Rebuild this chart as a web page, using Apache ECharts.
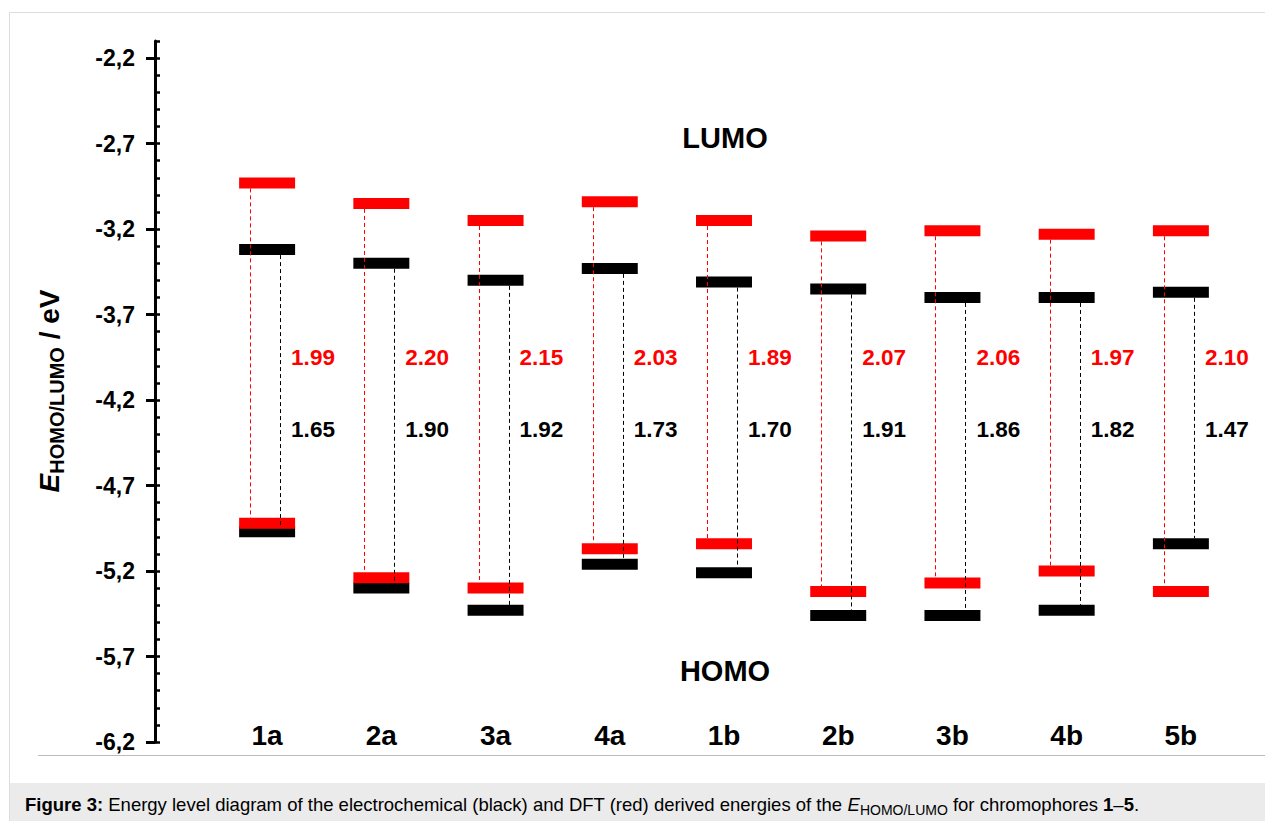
<!DOCTYPE html>
<html>
<head>
<meta charset="utf-8">
<script src="https://cdn.jsdelivr.net/npm/echarts@6/dist/echarts.min.js"></script>
<style>
  html, body { margin: 0; padding: 0; background: #fff; }
  #chart { width: 1265px; height: 821px; }
</style>
</head>
<body>
<div id="chart"></div>
<script>
// ---- data ----
const CATEGORIES = ['1a', '2a', '3a', '4a', '1b', '2b', '3b', '4b', '5b'];
const LUMO_DFT = [-2.93, -3.05, -3.15, -3.04, -3.15, -3.24, -3.21, -3.23, -3.21];
const HOMO_DFT = [-4.92, -5.24, -5.30, -5.07, -5.04, -5.32, -5.27, -5.20, -5.32];
const LUMO_EC  = [-3.32, -3.40, -3.50, -3.43, -3.51, -3.55, -3.60, -3.60, -3.57];
const HOMO_EC  = [-4.97, -5.30, -5.43, -5.16, -5.21, -5.46, -5.46, -5.43, -5.04];
const GAP_DFT = ['1.99', '2.20', '2.15', '2.03', '1.89', '2.07', '2.06', '1.97', '2.10'];
const GAP_EC  = ['1.65', '1.90', '1.92', '1.73', '1.70', '1.91', '1.86', '1.82', '1.47'];
const Y_TICKS = [-6.2, -5.7, -5.2, -4.7, -4.2, -3.7, -3.2, -2.7, -2.2];
const Y_MIN = -6.2, Y_MAX = -2.1;
const LABEL_Y_DFT = -3.95, LABEL_Y_EC = -4.37;

const FONT = 'Liberation Sans, Arial, Helvetica, sans-serif';
const RED = '#ff0000', BLACK = '#000000';

const seriesData = CATEGORIES.map((c, i) => [i, LUMO_DFT[i], HOMO_DFT[i], LUMO_EC[i], HOMO_EC[i]]);

function renderItem(params, api) {
  const i = api.value(0);
  const bandW = api.size([1, 0])[0];
  const bw = bandW * 0.49;
  const h = 11;
  const pLD = api.coord([i, api.value(1)]);
  const pHD = api.coord([i, api.value(2)]);
  const pLE = api.coord([i, api.value(3)]);
  const pHE = api.coord([i, api.value(4)]);
  const cx = pLD[0];
  const rect = (p, color) => ({
    type: 'rect',
    shape: { x: cx - bw / 2, y: p[1] - h / 2, width: bw, height: h },
    style: { fill: color }
  });
  const xr = Math.round(cx - 17) + 0.5;
  const xb = Math.round(cx + 13) + 0.5;
  const yD = api.coord([i, LABEL_Y_DFT])[1];
  const yE = api.coord([i, LABEL_Y_EC])[1];
  return {
    type: 'group',
    children: [
      rect(pLE, BLACK), rect(pHE, BLACK),
      rect(pLD, RED), rect(pHD, RED),
      { type: 'line', shape: { x1: xr, y1: pLD[1] + h / 2, x2: xr, y2: pHD[1] - h / 2 },
        style: { stroke: RED, lineWidth: 1, lineDash: [4, 3] } },
      { type: 'line', shape: { x1: xb, y1: pLE[1] + h / 2, x2: xb, y2: pHE[1] - h / 2 },
        style: { stroke: BLACK, lineWidth: 1, lineDash: [4, 3] } },
      { type: 'text', x: cx + 24, y: yD,
        style: { text: GAP_DFT[i], fill: RED, fontSize: 22.5, fontWeight: 'bold', fontFamily: FONT,
                 align: 'left', verticalAlign: 'middle' } },
      { type: 'text', x: cx + 24, y: yE,
        style: { text: GAP_EC[i], fill: BLACK, fontSize: 22.5, fontWeight: 'bold', fontFamily: FONT,
                 align: 'left', verticalAlign: 'middle' } }
    ]
  };
}

const chart = echarts.init(document.getElementById('chart'), null, { renderer: 'svg' });

const option = {
  backgroundColor: '#ffffff',
  animation: false,
  grid: { left: 210, right: 27, top: 41, bottom: 79, containLabel: false },
  xAxis: {
    type: 'category',
    data: CATEGORIES,
    boundaryGap: true,
    axisLine: { show: false },
    axisTick: { show: false },
    splitLine: { show: false },
    axisLabel: { color: BLACK, fontSize: 28, fontWeight: 'bold', fontFamily: FONT, margin: -21 }
  },
  yAxis: [
    {
      type: 'value',
      min: Y_MIN, max: Y_MAX, interval: 0.5,
      position: 'left', offset: 55,
      splitLine: { show: false },
      axisLine: { show: true, lineStyle: { color: BLACK, width: 3 } },
      axisTick: { show: true, inside: false, length: 9, lineStyle: { color: BLACK, width: 3 }, customValues: Y_TICKS },
      axisLabel: {
        show: true, customValues: Y_TICKS, margin: 20,
        color: BLACK, fontSize: 23, fontWeight: 'bold', fontFamily: FONT,
        formatter: v => Number(v).toFixed(1).replace('.', ',')
      }
    },
    {
      type: 'value',
      min: Y_MIN, max: Y_MAX, interval: 0.1,
      position: 'left', offset: 55,
      splitLine: { show: false },
      axisLine: { show: false },
      axisTick: { show: true, inside: true, length: 5, lineStyle: { color: BLACK, width: 2.5 } },
      axisLabel: { show: false }
    }
  ],
  series: [{
    type: 'custom',
    xAxisIndex: 0, yAxisIndex: 0,
    renderItem: renderItem,
    encode: { x: 0, y: [1, 2, 3, 4] },
    data: seriesData,
    z: 5
  }],
  graphic: [
    // figure frame
    { type: 'line', shape: { x1: 9.5, y1: 12.5, x2: 1265, y2: 12.5 }, style: { stroke: '#dddddd', lineWidth: 1 }, silent: true },
    { type: 'line', shape: { x1: 9.5, y1: 12.5, x2: 9.5, y2: 821 }, style: { stroke: '#dddddd', lineWidth: 1 }, silent: true },
    { type: 'line', shape: { x1: 38, y1: 755.5, x2: 1265, y2: 755.5 }, style: { stroke: '#bbbbbb', lineWidth: 1 }, silent: true },
    { type: 'rect', shape: { x: 10, y: 783, width: 1255, height: 38 }, style: { fill: '#ebebeb' }, silent: true },
    // caption
    { type: 'text', x: 25, y: 804, silent: true,
      style: {
        text: '{b|Figure 3:}{r| Energy level diagram of the electrochemical (black) and DFT (red) derived energies of the }{i|E}{s|HOMO/LUMO}{r| for chromophores }{b|1}{r|–}{b|5}{r|.}',
        verticalAlign: 'middle', align: 'left',
        rich: {
          b: { fontSize: 18.5, fontWeight: 'bold', fontFamily: FONT, fill: '#000', lineHeight: 22 },
          r: { fontSize: 18.5, fontFamily: FONT, fill: '#000', lineHeight: 22 },
          i: { fontSize: 18.5, fontStyle: 'italic', fontFamily: FONT, fill: '#000', lineHeight: 22 },
          s: { fontSize: 14, fontFamily: FONT, fill: '#000', lineHeight: 14, verticalAlign: 'bottom', padding: [0, 0, -2, 0] }
        }
      } },
    // y axis title
    { type: 'text', x: 49, y: 391, rotation: Math.PI / 2, silent: true,
      style: {
        text: '{e|E}{s|HOMO/LUMO}{n| / eV}',
        align: 'center', verticalAlign: 'middle',
        rich: {
          e: { fontSize: 28, fontWeight: 'bold', fontStyle: 'italic', fontFamily: FONT, fill: '#000', lineHeight: 36 },
          s: { fontSize: 20, fontWeight: 'bold', fontFamily: FONT, fill: '#000', lineHeight: 20, verticalAlign: 'bottom' },
          n: { fontSize: 28, fontWeight: 'bold', fontFamily: FONT, fill: '#000', lineHeight: 36 }
        }
      } },
    // LUMO / HOMO annotations
    { type: 'text', x: 725, y: 138, silent: true,
      style: { text: 'LUMO', fontSize: 29, fontWeight: 'bold', fontFamily: FONT, fill: '#000', align: 'center', verticalAlign: 'middle' } },
    { type: 'text', x: 725, y: 671, silent: true,
      style: { text: 'HOMO', fontSize: 29, fontWeight: 'bold', fontFamily: FONT, fill: '#000', align: 'center', verticalAlign: 'middle' } }
  ]
};

chart.setOption(option);
</script>
</body>
</html>
